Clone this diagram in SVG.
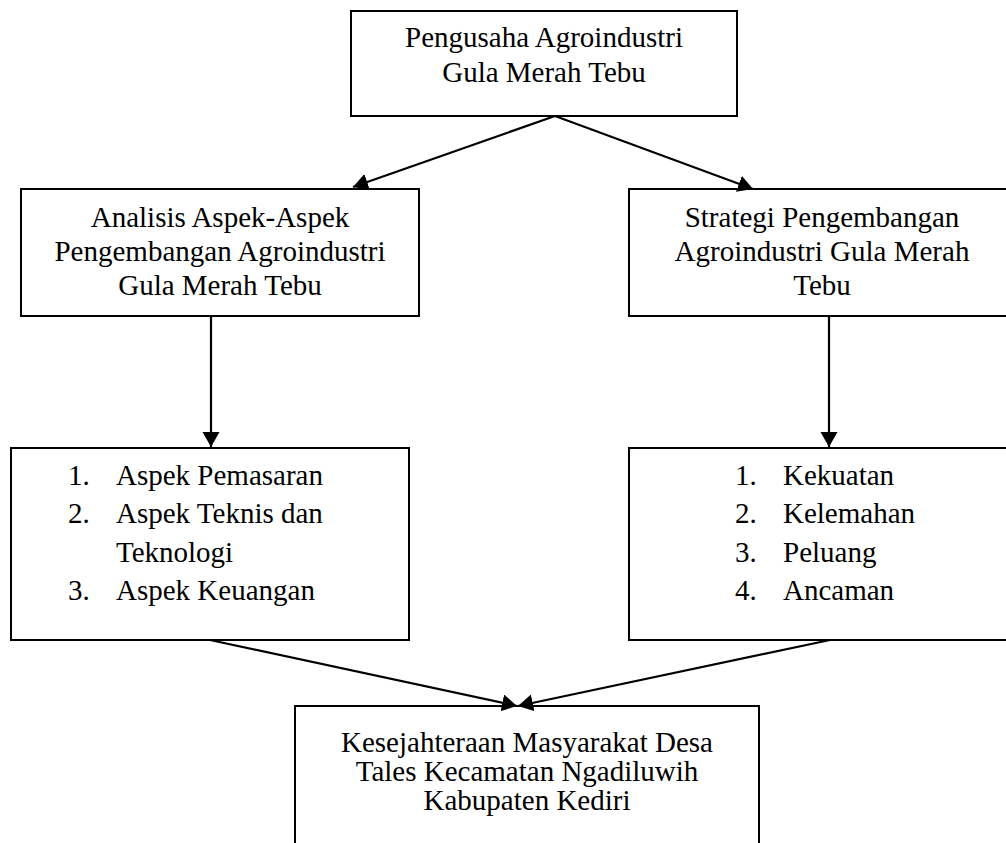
<svg xmlns="http://www.w3.org/2000/svg" width="1006" height="843" viewBox="0 0 1006 843">
<style>
.box{fill:#fff;stroke:#000;stroke-width:2}
.t{font-family:"Liberation Serif","Times New Roman",serif;font-size:29px;fill:#000}
.c{text-anchor:middle}
.ln{stroke:#000;stroke-width:2.2;fill:none;marker-end:url(#ah)}
</style>
<defs>
<marker id="ah" markerUnits="userSpaceOnUse" markerWidth="16" markerHeight="18" refX="15" refY="8.5" orient="auto" viewBox="0 0 16 18">
<path d="M0,0 L15,8.5 L0,17 z" fill="#000"/>
</marker>
</defs>
<rect width="1006" height="843" fill="#fff"/>
<g id="n-top">
<rect class="box" x="351" y="11" width="386" height="105"/>
<text class="t c" x="544" y="47">Pengusaha Agroindustri</text>
<text class="t c" x="544" y="82">Gula Merah Tebu</text>
</g>
<g id="n-analisis">
<rect class="box" x="21" y="189" width="398" height="127"/>
<text class="t c" x="220" y="227">Analisis Aspek-Aspek</text>
<text class="t c" x="220" y="261">Pengembangan Agroindustri</text>
<text class="t c" x="220" y="295">Gula Merah Tebu</text>
</g>
<g id="n-strategi">
<rect class="box" x="629" y="189" width="386" height="127"/>
<text class="t c" x="822" y="227">Strategi Pengembangan</text>
<text class="t c" x="822" y="261">Agroindustri Gula Merah</text>
<text class="t c" x="822" y="295">Tebu</text>
</g>
<g id="n-aspek">
<rect class="box" x="11" y="448" width="398" height="192"/>
<text class="t" x="68" y="485">1.</text><text class="t" x="116" y="485">Aspek Pemasaran</text>
<text class="t" x="68" y="523">2.</text><text class="t" x="116" y="523">Aspek Teknis dan</text>
<text class="t" x="116" y="562">Teknologi</text>
<text class="t" x="68" y="600">3.</text><text class="t" x="116" y="600">Aspek Keuangan</text>
</g>
<g id="n-swot">
<rect class="box" x="629" y="448" width="400" height="192"/>
<text class="t" x="735" y="485">1.</text><text class="t" x="783" y="485">Kekuatan</text>
<text class="t" x="735" y="523">2.</text><text class="t" x="783" y="523">Kelemahan</text>
<text class="t" x="735" y="562">3.</text><text class="t" x="783" y="562">Peluang</text>
<text class="t" x="735" y="600">4.</text><text class="t" x="783" y="600">Ancaman</text>
</g>
<g id="n-bottom">
<rect class="box" x="295" y="706" width="464" height="150"/>
<text class="t c" x="527" y="752">Kesejahteraan Masyarakat Desa</text>
<text class="t c" x="527" y="781">Tales Kecamatan Ngadiluwih</text>
<text class="t c" x="527" y="810">Kabupaten Kediri</text>
</g>
<g id="connectors">
<line class="ln" x1="555" y1="116" x2="353" y2="187"/>
<line class="ln" x1="555" y1="116" x2="753" y2="189"/>
<line class="ln" x1="211" y1="316" x2="211" y2="447"/>
<line class="ln" x1="829" y1="316" x2="829" y2="447"/>
<line class="ln" x1="210" y1="640" x2="517" y2="706"/>
<line class="ln" x1="830" y1="640" x2="518" y2="706"/>
</g>
</svg>
